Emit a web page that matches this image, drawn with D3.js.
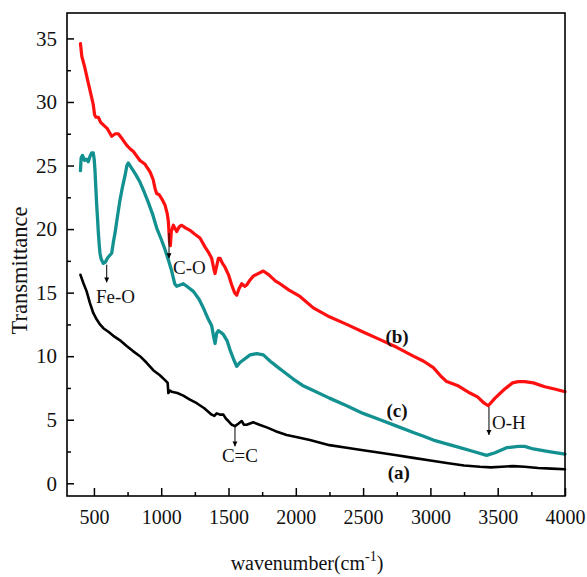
<!DOCTYPE html>
<html>
<head>
<meta charset="utf-8">
<script src="https://cdn.jsdelivr.net/npm/d3@7/dist/d3.min.js"></script>
<style>
  html, body { margin: 0; padding: 0; background: #fff; }
  svg { display: block; font-family: "Liberation Serif", "DejaVu Serif", serif; }
</style>
</head>
<body>
<svg id="chart" width="587" height="577"></svg>
<script>
// FTIR spectra: wavenumber (cm^-1) and transmittance for the three samples
const waveA = [400,420,446,470,495,520,545,570,610,644,700,743,790,842,890,941,990,1030,1048,1053,1065,1078,1120,1164,1210,1264,1320,1375,1395,1412,1440,1462,1480,1499,1525,1548,1575,1598,1615,1635,1660,1684,1730,1784,1850,1932,2020,2105,2250,2378,2500,2626,2750,2873,3000,3121,3250,3368,3450,3530,3616,3700,3800,3900,4000];
const transA = [16.4,15.8,15.1,14.2,13.4,12.9,12.5,12.2,11.9,11.6,11.2,10.8,10.4,10.0,9.5,8.9,8.5,8.1,7.9,7.1,7.3,7.2,7.1,6.9,6.6,6.3,5.9,5.4,5.3,5.5,5.4,5.4,5.1,4.9,4.6,4.5,4.7,4.9,4.6,4.6,4.7,4.8,4.6,4.4,4.1,3.8,3.6,3.4,3.0,2.8,2.6,2.4,2.2,2.0,1.8,1.6,1.4,1.3,1.25,1.3,1.35,1.3,1.2,1.15,1.1];

const waveB = [400,410,430,458,480,495,505,515,533,550,570,600,632,660,681,710,743,770,793,842,880,917,940,954,966,985,1003,1028,1045,1053,1062,1068,1075,1090,1105,1115,1135,1152,1180,1214,1250,1288,1325,1355,1375,1392,1400,1410,1425,1437,1455,1474,1500,1524,1545,1561,1578,1598,1620,1635,1660,1684,1720,1758,1800,1850,1882,1950,2031,2130,2250,2378,2500,2626,2750,2873,2950,3022,3080,3121,3200,3294,3350,3400,3430,3480,3550,3610,3653,3700,3765,3850,3930,4000];
const transB = [34.6,33.6,32.8,31.5,30.5,29.8,29.0,28.8,28.8,28.4,28.2,27.9,27.3,27.5,27.5,27.1,26.6,26.3,26.1,25.4,25.1,24.5,23.9,23.2,22.8,22.7,22.4,21.9,21.2,20.6,19.0,18.7,19.8,20.3,20.0,19.8,20.2,20.3,20.1,19.9,19.6,19.3,18.6,18.1,17.7,16.8,16.5,17.0,17.7,17.7,17.3,17.0,16.4,15.6,15.0,14.8,15.3,15.7,15.5,15.6,16.0,16.3,16.5,16.7,16.4,15.9,15.7,15.2,14.7,13.8,13.1,12.5,11.9,11.3,10.7,10.0,9.6,9.1,8.4,8.0,7.7,7.1,6.8,6.3,6.1,6.7,7.4,7.9,8.0,8.0,7.9,7.6,7.4,7.2];

const waveC = [400,405,415,430,445,458,470,483,495,502,508,514,520,527,533,540,545,555,570,585,600,615,632,645,657,675,694,712,731,745,755,768,780,810,842,870,904,935,966,1000,1028,1055,1078,1100,1115,1140,1164,1190,1239,1280,1313,1350,1375,1390,1400,1412,1425,1440,1462,1490,1511,1540,1561,1585,1610,1660,1710,1759,1810,1858,1920,1981,2050,2130,2250,2378,2500,2626,2750,2873,2950,3022,3120,3220,3320,3418,3480,3566,3653,3700,3765,3880,4000];
const transC = [24.6,25.6,25.8,25.4,25.5,25.3,25.7,26.0,26.0,25.5,24.6,23.3,22.0,20.8,19.7,18.7,18.1,17.6,17.3,17.4,17.7,17.9,18.1,19.0,19.7,21.0,22.3,23.3,24.2,25.0,25.2,25.0,24.8,24.3,23.7,23.0,22.1,21.2,20.1,19.2,18.4,17.5,16.7,15.7,15.5,15.6,15.7,15.5,15.1,14.5,13.8,12.9,12.4,11.5,11.0,11.8,12.0,11.9,11.7,11.2,10.5,9.7,9.2,9.5,9.7,10.1,10.2,10.1,9.6,9.2,8.7,8.2,7.7,7.3,6.7,6.1,5.5,5.0,4.5,4.0,3.7,3.4,3.1,2.8,2.5,2.2,2.4,2.8,2.9,2.9,2.7,2.5,2.3];

// Axis ticks
const xTicks = [500,1000,1500,2000,2500,3000,3500,4000];
const yTicks = [0,5,10,15,20,25,30,35];

// Curve labels (a), (b), (c): wavenumber, transmittance of text baseline
const curveLabels = ["(a)", "(b)", "(c)"];
const curveLabelWave = [2765, 2752, 2752];
const curveLabelTrans = [0.3, 11.0, 5.25];

// Band assignments: arrow at wavenumber from y1 down to y2, text anchored at (textWave, textTrans)
const bandNames = ["Fe-O", "C-O", "C=C", "O-H"];
const bandWave = [595, 1058, 1548, 3435];
const bandFrom = [17.2, 19.7, 4.5, 6.0];
const bandTo = [15.8, 17.7, 2.9, 3.8];
const bandTextWave = [515, 1088, 1585, 3458];
const bandTextTrans = [14.2, 16.5, 1.7, 4.3];
const bandTextAnchor = ["start", "start", "middle", "start"];

const svg = d3.select("#chart");
const margin = { left: 67, right: 22, top: 13, bottom: 81 };
const W = 587, H = 577;
const x = d3.scaleLinear().domain([300, 4000]).range([margin.left, W - margin.right]);
const y = d3.scaleLinear().domain([-1, 37]).range([H - margin.bottom, margin.top]);

const defs = svg.append("defs");
defs.append("marker").attr("id", "arrowHead")
  .attr("viewBox", "0 0 10 10").attr("refX", 10).attr("refY", 5)
  .attr("markerWidth", 5).attr("markerHeight", 7).attr("markerUnits", "userSpaceOnUse")
  .attr("orient", "auto")
  .append("path").attr("d", "M0,0 L10,5 L0,10 Z").attr("fill", "#000");

// Spectra
const line = d3.line().x(d => x(d[0])).y(d => y(d[1])).curve(d3.curveLinear);
const series = [
  { wave: waveA, trans: transA, color: "#000000", width: 2.6 },
  { wave: waveC, trans: transC, color: "#139191", width: 3.3 },
  { wave: waveB, trans: transB, color: "#ff1010", width: 3.2 }
];
series.forEach(s => {
  svg.append("path")
    .datum(s.wave.map((w, i) => [w, s.trans[i]]))
    .attr("d", line)
    .attr("fill", "none")
    .attr("stroke", s.color)
    .attr("stroke-width", s.width)
    .attr("stroke-linejoin", "round")
    .attr("stroke-linecap", "round");
});

// Frame
svg.append("rect")
  .attr("x", margin.left).attr("y", margin.top)
  .attr("width", W - margin.right - margin.left)
  .attr("height", H - margin.bottom - margin.top)
  .attr("fill", "none").attr("stroke", "#000").attr("stroke-width", 1.6);

// Bottom axis with inward ticks
const xMinor = d3.range(750, 4000, 500);
const xAxisG = svg.append("g").attr("transform", `translate(0,${H - margin.bottom})`);
xAxisG.call(d3.axisBottom(x).tickValues(xTicks).tickSize(-8).tickPadding(14).tickFormat(d3.format("d")));
xAxisG.append("g").call(d3.axisBottom(x).tickValues(xMinor).tickSize(-4).tickFormat(""));
xAxisG.selectAll(".domain").remove();
xAxisG.selectAll("line").attr("stroke", "#000").attr("stroke-width", 1.5);
xAxisG.selectAll("text").attr("fill", "#111").style("font-size", "20px")
  .style("font-family", "'Liberation Serif', serif");

// Left axis with inward ticks
const yMinor = d3.range(-0.0, 37, 2.5).filter(v => v % 5 !== 0);
const yAxisG = svg.append("g").attr("transform", `translate(${margin.left},0)`);
yAxisG.call(d3.axisLeft(y).tickValues(yTicks).tickSize(-7).tickPadding(10).tickFormat(d3.format("d")));
yAxisG.append("g").call(d3.axisLeft(y).tickValues(yMinor).tickSize(-4).tickFormat(""));
yAxisG.selectAll(".domain").remove();
yAxisG.selectAll("line").attr("stroke", "#000").attr("stroke-width", 1.5);
yAxisG.selectAll("text").attr("fill", "#111").style("font-size", "21px")
  .style("font-family", "'Liberation Serif', serif");

// Axis titles
svg.append("text")
  .attr("transform", `translate(27,${(margin.top + H - margin.bottom) / 2 + 16}) rotate(-90)`)
  .attr("text-anchor", "middle")
  .style("font-size", "22.5px").attr("fill", "#111")
  .text("Transmittance");

const xt = svg.append("text")
  .attr("x", (margin.left + W - margin.right) / 2 - 9).attr("y", 570)
  .attr("text-anchor", "middle")
  .style("font-size", "20px").attr("fill", "#111");
xt.append("tspan").text("wavenumber(cm");
xt.append("tspan").attr("dy", -9).style("font-size", "14px").text("-1");
xt.append("tspan").attr("dy", 9).text(")");

// Curve labels
svg.selectAll("text.curve-label")
  .data(curveLabels)
  .join("text")
  .attr("class", "curve-label")
  .attr("x", (d, i) => x(curveLabelWave[i]))
  .attr("y", (d, i) => y(curveLabelTrans[i]))
  .attr("text-anchor", "middle")
  .style("font-size", "19px").style("font-weight", "bold").attr("fill", "#111")
  .text(d => d);

// Band arrows and names
bandNames.forEach((name, i) => {
  svg.append("line")
    .attr("x1", x(bandWave[i])).attr("x2", x(bandWave[i]))
    .attr("y1", y(bandFrom[i])).attr("y2", y(bandTo[i]))
    .attr("stroke", "#000").attr("stroke-width", 1)
    .attr("marker-end", "url(#arrowHead)");
  svg.append("text")
    .attr("x", x(bandTextWave[i])).attr("y", y(bandTextTrans[i]))
    .attr("text-anchor", bandTextAnchor[i])
    .style("font-size", "19px").attr("fill", "#111")
    .text(name);
});
</script>
</body>
</html>
